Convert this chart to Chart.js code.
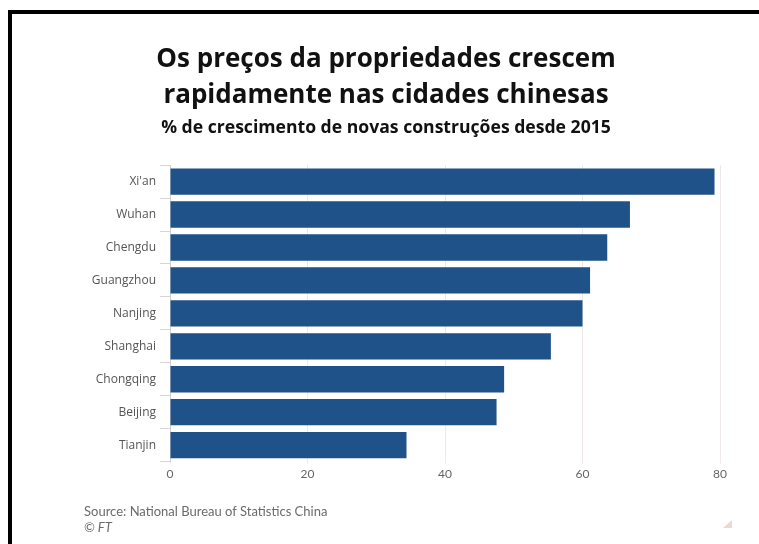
<!DOCTYPE html>
<html>
<head>
<meta charset="utf-8">
<script src="https://cdn.jsdelivr.net/npm/chart.js@4"></script>
<style>
  html, body { margin: 0; padding: 0; background: #fff; overflow: hidden; }
  #wrap { position: relative; width: 759px; height: 544px; }
  #c { position: absolute; left: 0; top: 0; }
  #frame { position: absolute; left: 8px; top: 10px; width: 800px; height: 600px;
           border-top: 4px solid #000; border-left: 4px solid #000; box-sizing: border-box; pointer-events: none; }
  .note { position: absolute; left: 84px; font-family: Lato, "Open Sans", sans-serif; font-size: 13px; color: #6b6b6b; white-space: nowrap; }
  #source { top: 503px; }
  #ft { top: 519px; font-style: italic; }
  #corner { position: absolute; left: 723px; top: 520px; width: 0; height: 0;
            border-left: 9px solid transparent; border-bottom: 8px solid #ead9cf; }
</style>
</head>
<body>
<div id="wrap">
  <canvas id="c" width="759" height="544"></canvas>
  <div id="frame"></div>
  <div class="note" id="source">Source: National Bureau of Statistics China</div>
  <div class="note" id="ft">© FT</div>
  <div id="corner"></div>
</div>
<script>
const titleLines = ["Os preços da propriedades crescem", "rapidamente nas cidades chinesas"];
const subtitleText = "% de crescimento de novas construções desde 2015";
const cities = ["Xi'an", "Wuhan", "Chengdu", "Guangzhou", "Nanjing", "Shanghai", "Chongqing", "Beijing", "Tianjin"];
const growth = [79.2, 66.9, 63.6, 61.1, 60.0, 55.4, 48.6, 47.5, 34.4];
const xTicks = [0, 20, 40, 60, 80];

new Chart(document.getElementById('c'), {
  type: 'bar',
  data: {
    labels: cities,
    datasets: [{
      data: growth,
      backgroundColor: '#1f5288',
      borderWidth: 0,
      barPercentage: 0.8,
      categoryPercentage: 1.0
    }]
  },
  options: {
    indexAxis: 'y',
    responsive: false,
    animation: false,
    devicePixelRatio: 1,
    layout: { padding: { left: 52, right: 39, top: 0, bottom: 60 } },
    plugins: {
      legend: { display: false },
      tooltip: { enabled: false },
      title: {
        display: true,
        text: titleLines,
        color: '#111',
        font: { family: '"Open Sans", sans-serif', size: 26, weight: 'bold', lineHeight: 1.385 },
        padding: { top: 42, bottom: 0 }
      },
      subtitle: {
        display: true,
        text: subtitleText,
        color: '#111',
        font: { family: '"Open Sans", sans-serif', size: 17.6, weight: 'bold', lineHeight: 1.2 },
        padding: { top: 3, bottom: 27 }
      }
    },
    scales: {
      x: {
        min: 0, max: 80,
        afterBuildTicks: (s) => { s.ticks = xTicks.map(v => ({ value: v })); },
        border: { display: false },
        grid: { color: '#efe9e9', lineWidth: 1, tickLength: 2, drawTicks: true },
        ticks: { color: '#666', padding: 3, font: { family: 'Lato, sans-serif', size: 12 } }
      },
      y: {
        afterFit: (s) => { s.width = 118; },
        border: { display: true, color: '#cfcfcf', width: 1 },
        grid: { drawOnChartArea: false, drawTicks: true, tickLength: 10, color: '#d5d5d5' },
        ticks: { color: '#555', padding: 4, font: { family: '"Open Sans", sans-serif', size: 12 } }
      }
    }
  }
});
</script>
</body>
</html>
